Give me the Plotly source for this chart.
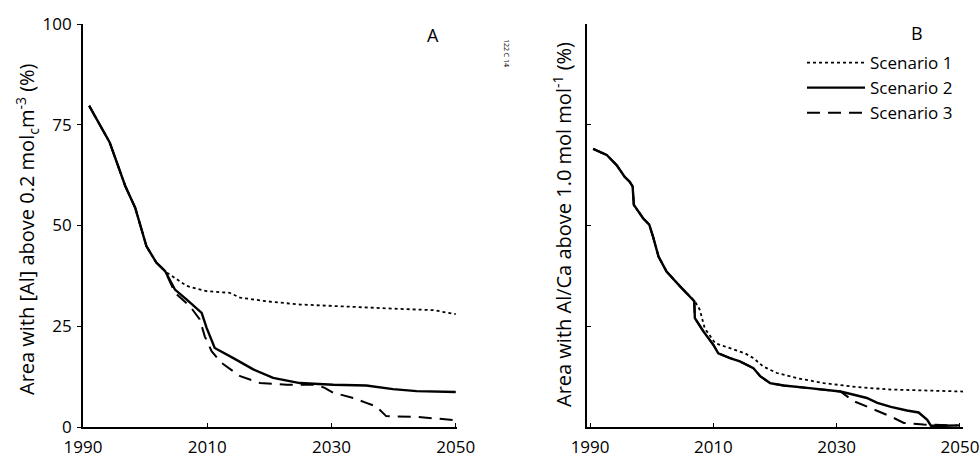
import plotly.graph_objects as go

# ---- Panel A: area with [Al] above 0.2 molc m-3 (%) ----
a_years_s1 = [1991.0, 1994.3, 1996.8, 1998.4, 2000.2, 2001.8, 2003.5, 2006.7, 2009.9,
              2013.6, 2015.3, 2019.5, 2024.9, 2030.3, 2035.6, 2041.0, 2046.4, 2050.0]
a_vals_s1 = [79.7, 70.6, 59.8, 54.4, 44.9, 40.8, 38.3, 35.0, 33.7,
             33.3, 32.1, 31.2, 30.4, 30.0, 29.6, 29.3, 29.0, 28.0]

a_years_s2 = [1991.0, 1994.3, 1996.8, 1998.4, 2000.2, 2001.8, 2003.2, 2004.8, 2006.7,
              2009.1, 2009.9, 2011.2, 2014.2, 2017.4, 2020.6, 2024.9, 2030.3, 2035.6,
              2039.9, 2043.7, 2050.0]
a_vals_s2 = [79.7, 70.6, 59.8, 54.4, 44.9, 40.8, 38.7, 34.1, 31.6,
             28.3, 24.6, 19.6, 17.1, 14.3, 12.2, 10.9, 10.5, 10.3,
             9.4, 8.9, 8.7]

a_years_s3 = [1991.0, 1994.3, 1996.8, 1998.4, 2000.2, 2001.8, 2003.2, 2004.8, 2007.2,
              2008.8, 2009.6, 2010.7, 2012.3, 2015.3, 2018.5, 2022.8, 2027.6, 2028.9,
              2030.3, 2033.5, 2035.6, 2037.2, 2038.8, 2043.7, 2050.0]
a_vals_s3 = [79.7, 70.6, 59.8, 54.4, 44.9, 40.8, 38.7, 33.3, 30.0,
             26.7, 22.5, 18.8, 15.9, 12.6, 10.9, 10.5, 10.5, 9.7,
             8.5, 7.2, 6.0, 5.1, 2.7, 2.5, 1.7]

# ---- Panel B: area with Al/Ca above 1.0 mol mol-1 (%) ----
b_years_s1 = [1990.5, 1992.7, 1994.3, 1995.6, 1996.4, 1996.9, 1997.1, 1998.6, 1999.6,
              2000.2, 2001.1, 2002.4, 2004.6, 2006.5, 2007.0, 2007.8, 2008.6, 2010.3,
              2012.7, 2015.1, 2016.5, 2018.1, 2020.3, 2023.6, 2027.9, 2033.3, 2038.7,
              2044.1, 2050.5]
b_vals_s1 = [69.0, 67.5, 65.0, 62.1, 60.9, 59.7, 55.1, 51.8, 50.2,
             47.3, 42.3, 38.6, 34.9, 32.0, 31.2, 29.1, 24.5, 20.8,
             19.6, 18.3, 17.1, 15.0, 13.4, 12.1, 10.9, 9.9, 9.3,
             9.0, 8.8]

b_years_s2 = [1990.5, 1992.7, 1994.3, 1995.6, 1996.4, 1996.9, 1997.1, 1998.6, 1999.6,
              2000.2, 2001.1, 2002.4, 2004.6, 2006.5, 2006.9, 2007.0, 2008.4, 2010.0,
              2010.8, 2012.7, 2014.3, 2016.5, 2017.6, 2019.2, 2021.4, 2025.2, 2027.9,
              2030.6, 2032.8, 2034.9, 2036.6, 2038.8, 2041.4, 2043.3, 2044.7, 2045.3,
              2047.5, 2050.0]
b_vals_s2 = [69.0, 67.5, 65.0, 62.1, 60.9, 59.7, 55.1, 51.8, 50.2,
             47.3, 42.3, 38.6, 34.9, 32.0, 31.2, 27.0, 23.7, 20.4,
             18.3, 17.1, 16.3, 14.6, 12.6, 10.9, 10.3, 9.7, 9.3,
             8.8, 8.0, 7.2, 6.0, 5.0, 4.1, 3.6, 1.8, 0.3,
             0.3, 0.4]

b_years_s3 = [1990.5, 1992.7, 1994.3, 1995.6, 1996.4, 1996.9, 1997.1, 1998.6, 1999.6,
              2000.2, 2001.1, 2002.4, 2004.6, 2006.5, 2006.9, 2007.0, 2008.4, 2010.0,
              2010.8, 2012.7, 2014.3, 2016.5, 2017.6, 2019.2, 2021.4, 2025.2, 2027.9,
              2030.6, 2032.8, 2034.9, 2036.6, 2038.8, 2040.9, 2044.1, 2049.5]
b_vals_s3 = [69.0, 67.5, 65.0, 62.1, 60.9, 59.7, 55.1, 51.8, 50.2,
             47.3, 42.3, 38.6, 34.9, 32.0, 31.2, 27.0, 23.7, 20.4,
             18.3, 17.1, 16.3, 14.6, 12.6, 10.9, 10.3, 9.7, 9.3,
             8.8, 6.4, 5.1, 3.9, 2.6, 1.0, 0.6, 0.4]

scenario_names = ["Scenario 1", "Scenario 2", "Scenario 3"]
x_ticks = [1990, 2010, 2030, 2050]
y_ticks = [0, 25, 50, 75, 100]

FONT = "Open Sans"
styles = [
    dict(color="black", width=1.8, dash="dot"),
    dict(color="black", width=2.4, dash="solid"),
    dict(color="black", width=2.0, dash="13px,8px"),
]

fig = go.Figure()

panel_a = [(a_years_s1, a_vals_s1), (a_years_s2, a_vals_s2), (a_years_s3, a_vals_s3)]
panel_b = [(b_years_s1, b_vals_s1), (b_years_s2, b_vals_s2), (b_years_s3, b_vals_s3)]

for i, (xs, ys) in enumerate(panel_a):
    fig.add_trace(go.Scatter(x=xs, y=ys, mode="lines", line=styles[i],
                             name=scenario_names[i], showlegend=False,
                             xaxis="x", yaxis="y"))
for i, (xs, ys) in enumerate(panel_b):
    fig.add_trace(go.Scatter(x=xs, y=ys, mode="lines", line=styles[i],
                             name=scenario_names[i], showlegend=True,
                             xaxis="x2", yaxis="y2"))

W, H = 980, 457
def px_x(p):
    return p / W
def px_y(p):
    return 1 - p / H

axis_common = dict(showline=True, linecolor="black", linewidth=1.8, showgrid=False,
                   zeroline=False, tickcolor="black", tickwidth=1.3, automargin=False,
                   tickfont=dict(family=FONT, size=17, color="black"))

fig.update_layout(
    template="none",
    width=W, height=H,
    margin=dict(l=0, r=0, t=0, b=0, autoexpand=False),
    paper_bgcolor="white", plot_bgcolor="white",
    font=dict(family=FONT, color="black"),
    xaxis=dict(domain=[px_x(83), px_x(457)], range=[1990, 2050.2],
               tickvals=x_ticks, ticks="inside", ticklen=4, ticklabelstandoff=4,
               anchor="y", **axis_common),
    yaxis=dict(domain=[px_y(427), px_y(24)], range=[0, 100],
               tickvals=y_ticks, ticks="outside", ticklen=4, ticklabelstandoff=2,
               anchor="x", **axis_common),
    xaxis2=dict(domain=[px_x(587), px_x(963)], range=[1989.5, 2050.5],
                tickvals=x_ticks, ticks="inside", ticklen=4, ticklabelstandoff=4,
                anchor="y2", **axis_common),
    yaxis2=dict(domain=[px_y(427), px_y(24)], range=[0, 100],
                tickvals=y_ticks, ticks="inside", ticklen=4, showticklabels=False,
                anchor="x2", **axis_common),
    legend=dict(x=px_x(802), y=px_y(45), xanchor="left", yanchor="top",
                bgcolor="rgba(0,0,0,0)", borderwidth=0,
                font=dict(family=FONT, size=17, color="black"),
                itemwidth=58, tracegroupgap=0),
)

annotations = [
    dict(text="Area with [Al] above 0.2 mol<sub>c</sub>m<sup>-3</sup> (%)",
         x=px_x(27), y=px_y(229), textangle=-90),
    dict(text="Area with Al/Ca above 1.0 mol mol<sup>-1</sup> (%)",
         x=px_x(562), y=px_y(225), textangle=-90),
]
for ann in annotations:
    fig.add_annotation(xref="paper", yref="paper", showarrow=False,
                       xanchor="center", yanchor="middle",
                       font=dict(family=FONT, size=20, color="black"), **ann)

for label, lx, ly in [("A", 433, 35), ("B", 917, 33)]:
    fig.add_annotation(text=label, xref="paper", yref="paper", showarrow=False,
                       x=px_x(lx), y=px_y(ly), xanchor="center", yanchor="middle",
                       font=dict(family=FONT, size=18, color="black"))

fig.add_annotation(text="122 C 14", xref="paper", yref="paper", showarrow=False,
                   x=px_x(507), y=px_y(37), textangle=90,
                   font=dict(family=FONT, size=7, color="black"))

fig.write_html("out.html")
